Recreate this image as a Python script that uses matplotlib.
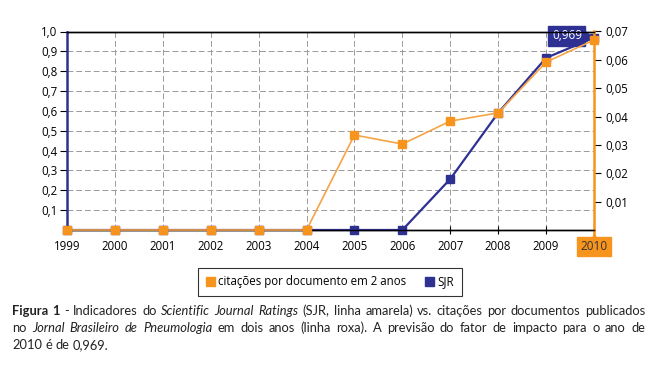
import matplotlib
matplotlib.use("Agg")
import matplotlib.pyplot as plt
from matplotlib.patches import Patch
from matplotlib.transforms import blended_transform_factory

years = [1999, 2000, 2001, 2002, 2003, 2004, 2005, 2006, 2007, 2008, 2009, 2010]
sjr = [0, 0, 0, 0, 0, 0, 0, 0, 0.257, 0.59, 0.867, 0.969]
citacoes = [0, 0, 0, 0, 0, 0, 0.0335, 0.0303, 0.0384, 0.0413, 0.0592, 0.067]
left_ticks = [0.1, 0.2, 0.3, 0.4, 0.5, 0.6, 0.7, 0.8, 0.9, 1.0]
right_ticks = [0.01, 0.02, 0.03, 0.04, 0.05, 0.06, 0.07]
legend_labels = ["citações por documento em 2 anos", "SJR"]
sjr_label = "0,969"

ORANGE = "#F7941D"
ORANGE_L = "#F6A446"
PURPLE = "#2E3192"
FONT = "Open Sans"
plt.rcParams['font.family'] = [FONT, 'DejaVu Sans']

fig = plt.figure(figsize=(6.56, 3.69), dpi=100)
ax = fig.add_axes([67/656, 1-230/369, (594-67)/656, (230-31.5)/369])
ax2 = ax.twinx()

ax.set_xlim(1999, 2010)
ax.set_ylim(0, 1.0)
ax2.set_ylim(0, 0.07)

# grid
for y in left_ticks[:-1]:
    ax.axhline(y, color="#9a9a9a", lw=0.7, ls=(0, (6, 3)), zorder=0)
for x in years[1:-1]:
    ax.axvline(x, color="#9a9a9a", lw=0.7, ls=(0, (6, 3)), zorder=0)

ax.plot(years, sjr, color=PURPLE, lw=1.6, marker="s", ms=5.5, mfc=PURPLE, mec=PURPLE, zorder=3, clip_on=False)
ax2.plot(years, citacoes, color=ORANGE_L, lw=1.2, marker="s", ms=5.5, mfc=ORANGE, mec=ORANGE, zorder=4, clip_on=False)

ax.set_yticks(left_ticks)
ax.set_yticklabels([f"{v:.1f}".replace(".", ",") for v in left_ticks], fontsize=8.3)
ax2.set_yticks(right_ticks)
ax2.set_yticklabels([f"{v:.2f}".replace(".", ",") for v in right_ticks], fontsize=8.3)
ax.set_xticks(years)
ax.set_xticklabels([str(y) for y in years], fontsize=8.3)
ax.get_xticklabels()[-1].set_visible(False)

ax.tick_params(axis="x", direction="inout", length=6, width=0.8, pad=4, colors="black")
ax.tick_params(axis="y", direction="out", length=5, width=0.8, pad=2)
ax2.tick_params(axis="y", direction="out", length=5, width=0.8, pad=3)

for a in (ax, ax2):
    a.spines["top"].set_color("black")
    a.spines["top"].set_linewidth(1.0)
    a.spines["bottom"].set_color("black")
    a.spines["bottom"].set_linewidth(1.0)
ax.spines["left"].set_color(PURPLE)
ax.spines["left"].set_linewidth(1.8)
ax2.spines["left"].set_visible(False)
ax.spines["right"].set_visible(False)
ax2.spines["right"].set_color(ORANGE)
ax2.spines["right"].set_linewidth(1.8)

# orange extension down to the 2010 marker box
tr = blended_transform_factory(ax.transData, ax.transAxes)
ax.plot([2010, 2010], [0, -0.035], color=ORANGE, lw=1.8, transform=tr, clip_on=False, zorder=5)
ax.plot([2010], [-0.045], marker="^", ms=7, color=ORANGE, transform=tr, clip_on=False, zorder=5)
ax.text(2010, -0.085, "2010", transform=tr, ha="center", va="center", fontsize=8.5, color="#333333",
        bbox=dict(boxstyle="square,pad=0.25", fc=ORANGE, ec=ORANGE), zorder=6)

# value label with wedge pointer
ax.annotate(sjr_label, xy=(years[-1], sjr[-1]), xytext=(-19.5, 1.5), textcoords="offset points",
            ha="center", va="center", fontsize=8.5, color="white", zorder=7,
            bbox=dict(boxstyle="square,pad=0.3", fc=PURPLE, ec=PURPLE),
            arrowprops=dict(arrowstyle="wedge,tail_width=0.8,shrink_factor=0.5", fc=PURPLE, ec=PURPLE,
                            shrinkA=0, shrinkB=1))

# legend
handles = [Patch(fc=ORANGE, ec=ORANGE), Patch(fc=PURPLE, ec=PURPLE)]
leg = fig.legend(handles, legend_labels, loc="center", bbox_to_anchor=(330/656, 1-282/369), ncol=2,
                 frameon=True, fancybox=False, edgecolor="black", fontsize=8.3,
                 handlelength=0.8, handleheight=0.8, handletextpad=0.3, columnspacing=1.6,
                 borderpad=0.65)
leg.get_frame().set_linewidth(0.8)

# caption, justified
caption = [
    [("Figura 1", "bold", "normal"), ("- Indicadores do", "normal", "normal"),
     ("Scientific Journal Ratings", "normal", "italic"),
     ("(SJR, linha amarela) vs. citações por documentos publicados", "normal", "normal")],
    [("no", "normal", "normal"), ("Jornal Brasileiro de Pneumologia", "normal", "italic"),
     ("em dois anos (linha roxa). A previsão do fator de impacto para o ano de", "normal", "normal")],
    [("2010 é de 0,969.", "normal", "normal")],
]
fig.canvas.draw()
renderer = fig.canvas.get_renderer()
x0, x1 = 12, 645
line_y = [311, 328, 345]
CFS = 9.3
CFONT = ["Lato", "DejaVu Sans"]
for li, segs in enumerate(caption):
    words = []
    for text, w, s in segs:
        for wd in text.split(" "):
            words.append((wd, w, s))
    objs = []
    for wd, w, s in words:
        t = fig.text(0, 1-line_y[li]/369, wd, fontsize=CFS, fontweight=w, fontstyle=s,
                     family=CFONT, va="center", ha="left", color="#222222")
        objs.append(t)
    widths = [t.get_window_extent(renderer).width for t in objs]
    sp = fig.text(0, 0, "a b", fontsize=CFS, family=CFONT)
    sp2 = fig.text(0, 0, "ab", fontsize=CFS, family=CFONT)
    space = sp.get_window_extent(renderer).width - sp2.get_window_extent(renderer).width
    sp.remove(); sp2.remove()
    if li < len(caption) - 1:
        gap = (x1 - x0 - sum(widths)) / (len(words) - 1)
    else:
        gap = space
    x = x0
    for t, wdt in zip(objs, widths):
        t.set_x(x / 656)
        x += wdt + gap

fig.savefig("out.png", dpi=100)
